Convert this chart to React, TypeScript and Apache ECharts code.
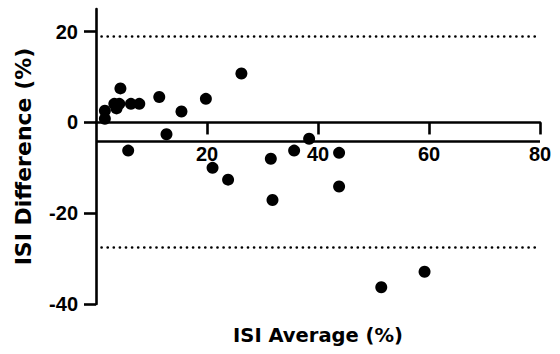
import React, { useEffect, useRef } from "react";
import * as echarts from "echarts";

const averages = [1.6, 1.6, 4.4, 3.3, 4.2, 3.7, 6.3, 7.8, 11.4, 15.4, 12.7, 5.8, 19.8, 26.2, 21.0, 23.8, 31.5, 31.8, 38.4, 35.7, 43.8, 43.8, 51.4, 59.2];
const differences = [2.6, 0.8, 7.5, 4.1, 4.1, 3.1, 4.1, 4.1, 5.6, 2.4, -2.6, -6.2, 5.2, 10.8, -10.0, -12.6, -8.0, -17.1, -3.6, -6.2, -6.7, -14.1, -36.3, -32.9];
const bias = -4.2;
const limitsOfAgreement = [19.1, -27.6];
const limitRange = [1, 79.5];
const xTicks = [0, 20, 40, 60, 80];
const yTicks = [-40, -20, 0, 20];

const FONT = "'Liberation Sans', Arial, Helvetica, sans-serif";
const TITLE_FONT = "'DejaVu Sans', sans-serif";

export default function App() {
  const ref = useRef<HTMLDivElement>(null);
  useEffect(() => {
    if (!ref.current) return;
    const chart = echarts.init(ref.current, null, { renderer: "svg" });
    const points = averages.map((x, i) => [x, differences[i]]);
    const axisLine = { lineStyle: { color: "#000", width: 2.6 } };
    const tickLabel = { fontFamily: FONT, fontWeight: "bold", fontSize: 20, color: "#000" };
    const xBase = { type: "value", min: 0, max: 80, interval: 20, splitLine: { show: false } };
    chart.setOption({
      animation: false,
      grid: { left: 96, right: 20, top: 9, bottom: 50, containLabel: false, outerBoundsMode: "none" },
      xAxis: [
        {
          ...xBase,
          axisLine: { ...axisLine, onZero: true },
          axisTick: { show: true, length: 12, lineStyle: { color: "#000", width: 2.6 }, customValues: xTicks.slice(1) },
          axisLabel: { show: false },
        },
        {
          ...xBase,
          position: "bottom",
          offset: -182,
          axisLine: { show: false, onZero: false },
          axisTick: { show: false },
          axisLabel: { ...tickLabel, margin: 22, customValues: xTicks.slice(1) },
        },
        {
          ...xBase,
          position: "bottom",
          name: "ISI Average (%)",
          nameLocation: "middle",
          nameGap: 21,
          nameTextStyle: { fontFamily: TITLE_FONT, fontWeight: "bold", fontSize: 19.5, color: "#000", verticalAlign: "top" },
          axisLine: { show: false, onZero: false },
          axisTick: { show: false },
          axisLabel: { show: false },
        },
      ],
      yAxis: {
        type: "value",
        min: -40,
        max: 25,
        interval: 20,
        name: "ISI Difference (%)",
        nameLocation: "middle",
        nameRotate: 90,
        nameGap: 62,
        nameTextStyle: { fontFamily: TITLE_FONT, fontWeight: "bold", fontSize: 22, color: "#000" },
        axisLine: { ...axisLine, onZero: false },
        axisTick: { show: true, length: 12, lineStyle: { color: "#000", width: 2.6 }, customValues: yTicks },
        axisLabel: { ...tickLabel, margin: 18, customValues: yTicks },
        splitLine: { show: false },
      },
      series: [
        {
          type: "scatter",
          xAxisIndex: 0,
          data: points,
          symbolSize: 12,
          itemStyle: { color: "#000", opacity: 1 },
          markLine: {
            silent: true,
            symbol: "none",
            label: { show: false },
            data: [
              [
                { coord: [0, bias], lineStyle: { type: "solid", width: 2.6, color: "#000" } },
                { coord: [80, bias] },
              ],
              ...limitsOfAgreement.map((v) => [
                { coord: [limitRange[0], v], lineStyle: { type: [0.1, 6], width: 2.6, color: "#000", cap: "round" } },
                { coord: [limitRange[1], v] },
              ]),
            ],
          },
        },
      ],
    });
    return () => chart.dispose();
  }, []);
  return <div ref={ref} style={{ width: 560, height: 354, position: "absolute", left: 0, top: 0, background: "#fff" }} />;
}
